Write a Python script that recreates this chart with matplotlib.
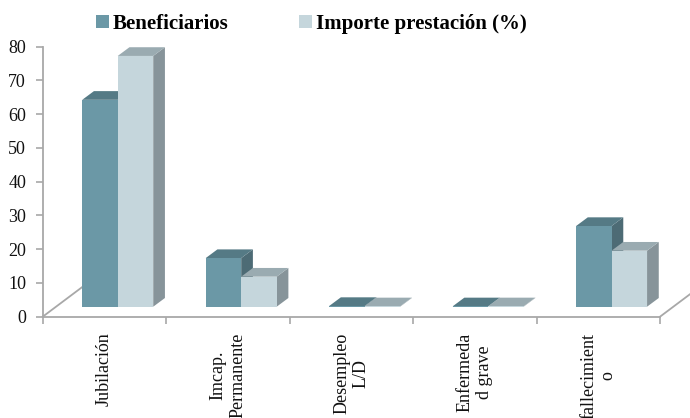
import numpy as np
import matplotlib
matplotlib.use('Agg')
import matplotlib.pyplot as plt
from matplotlib.patches import Polygon, Patch
from matplotlib.lines import Line2D
from matplotlib.transforms import IdentityTransform

categorias = ['Jubilación', 'Imcap.\nPermanente', 'Desempleo\nL/D',
              'Enfermeda\nd grave', 'fallecimient\no']
beneficiarios = [61.3, 14.4, 0.2, 0.1, 23.9]
importe = [74.3, 8.9, 0.1, 0.1, 16.6]
series = ['Beneficiarios', 'Importe prestación (%)']

# colores: frente, tapa, lateral
col_ben = ('#6b98a6', '#557a85', '#4d6b75')
col_imp = ('#c5d6dc', '#9aabb1', '#87949a')
gris = '#a8a8a8'

plt.rcParams['font.family'] = ['Liberation Serif', 'DejaVu Serif']

fig = plt.figure(figsize=(6.9, 4.18), dpi=100)
ax = fig.add_axes([42.7 / 690, 101.3 / 418, 617.3 / 690, 270 / 418])
ax.set_xlim(0, 5)
ax.set_ylim(0, 80)

# desplazamientos de la perspectiva en pixeles
FX, FY = 13.3, 10.0   # cara frontal respecto al borde del suelo
DX, DY = 11.7, 8.7    # profundidad de cada barra
w = 0.2875


def pt(x, y, ox=0.0, oy=0.0):
    X, Y = ax.transData.transform((x, y))
    return (X + ox, Y + oy)


def barra(x0, v, cols):
    x1 = x0 + w
    frente = [pt(x0, 0, FX, FY), pt(x1, 0, FX, FY), pt(x1, v, FX, FY), pt(x0, v, FX, FY)]
    tapa = [pt(x0, v, FX, FY), pt(x1, v, FX, FY),
            pt(x1, v, FX + DX, FY + DY), pt(x0, v, FX + DX, FY + DY)]
    lado = [pt(x1, 0, FX, FY), pt(x1, 0, FX + DX, FY + DY),
            pt(x1, v, FX + DX, FY + DY), pt(x1, v, FX, FY)]
    for verts, c in ((lado, cols[2]), (tapa, cols[1]), (frente, cols[0])):
        ax.add_patch(Polygon(verts, closed=True, facecolor=c, edgecolor='none',
                             transform=IdentityTransform(), clip_on=False, zorder=3))


# lineas laterales del suelo
for xb in (0, 5):
    a = pt(xb, 0)
    b = pt(xb, 0, 40, 30)
    ax.add_line(Line2D([a[0], b[0]], [a[1], b[1]], color=gris, lw=1.3,
                       transform=IdentityTransform(), clip_on=False, zorder=1))

for i in range(len(categorias)):
    barra(i + 0.5 - w, beneficiarios[i], col_ben)
    barra(i + 0.5, importe[i], col_imp)

for s in ('top', 'right'):
    ax.spines[s].set_visible(False)
for s in ('left', 'bottom'):
    ax.spines[s].set_color(gris)
    ax.spines[s].set_linewidth(1.3)

ax.set_yticks(np.arange(0, 81, 10))
ax.tick_params(axis='y', length=5, width=1.2, color=gris, pad=7, labelsize=13,
               labelcolor='#111111')
ax.set_xticks(np.arange(len(categorias)) + 0.5)
ax.set_xticklabels(categorias, rotation=90, ha='center', va='top',
                   multialignment='center', fontsize=13, color='#111111')
ax.tick_params(axis='x', which='major', length=0, pad=11.5)
ax.set_xticks(np.arange(len(categorias) + 1), minor=True)
ax.tick_params(axis='x', which='minor', length=5, width=1.2, color=gris)

handles = [Patch(facecolor=col_ben[0], edgecolor='none', label=series[0]),
           Patch(facecolor=col_imp[0], edgecolor='none', label=series[1])]
fig.legend(handles=handles, loc='center', bbox_to_anchor=(0.4514, 0.943), ncol=2,
           frameon=False, prop={'family': 'Liberation Serif', 'weight': 'bold', 'size': 15},
           handlelength=0.62, handleheight=0.6, handletextpad=0.2, columnspacing=3.4,
           borderpad=0, borderaxespad=0)

fig.savefig('out.png', dpi=100)
